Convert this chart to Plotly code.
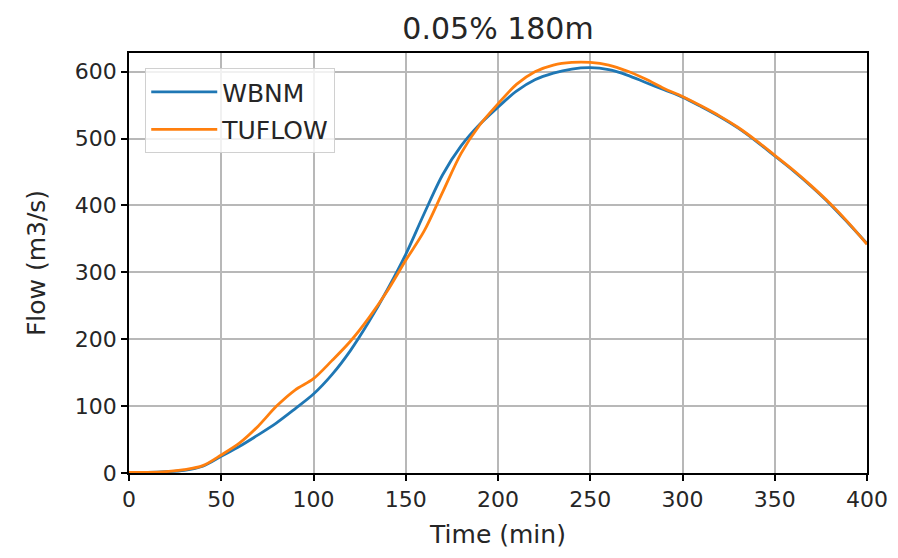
import plotly.graph_objects as go

time_min = list(range(0, 401, 10))

wbnm = [1, 1, 2, 4, 10, 25, 40, 57, 75, 96,
        118, 147, 183, 226, 274, 327, 388, 446, 489, 521,
        547, 571, 588, 598, 604, 606, 603, 595, 584, 573,
        562, 548, 533, 516, 496, 474, 452, 428, 402, 373,
        343]

tuflow = [1, 1, 2, 5, 11, 27, 45, 70, 100, 124,
          141, 168, 197, 232, 272, 318, 362, 420, 478, 520,
          552, 581, 600, 610, 614, 614, 610, 601, 589, 575,
          563, 549, 534, 517, 497, 475, 453, 429, 403, 374,
          342]

series_names = ["WBNM", "TUFLOW"]
colors = ["#1f77b4", "#ff7f0e"]

x_ticks = [0, 50, 100, 150, 200, 250, 300, 350, 400]
y_ticks = [0, 100, 200, 300, 400, 500, 600]

font_family = "DejaVu Sans"
text_color = "#262626"

fig = go.Figure()
for name, vals, col in zip(series_names, [wbnm, tuflow], colors):
    fig.add_trace(go.Scatter(
        x=time_min, y=vals, mode="lines", name=name, legendgroup=name,
        line=dict(color=col, width=2.8, shape="spline", smoothing=0.9),
    ))

axis_common = dict(
    showline=True, linecolor="black", linewidth=1.5, mirror=True,
    showgrid=True, gridcolor="#b8b8b8", gridwidth=1.5,
    ticks="outside", ticklen=6, tickwidth=1.5, tickcolor="black",
    zeroline=False, automargin=False,
    tickfont=dict(family=font_family, size=22, color=text_color),
)

fig.update_layout(
    width=898, height=558,
    margin=dict(l=129, r=31, t=53, b=85),
    paper_bgcolor="white", plot_bgcolor="white",
    font=dict(family=font_family, size=22, color=text_color),
    title=dict(text="0.05% 180m", x=(129 + 867) / 2 / 898, xanchor="center",
               y=1 - 28 / 558, yanchor="middle",
               font=dict(family=font_family, size=30, color=text_color)),
    xaxis=dict(range=[0, 400], tickvals=x_ticks,
               title=dict(text="Time (min)", standoff=14,
                          font=dict(family=font_family, size=25)),
               **axis_common),
    yaxis=dict(range=[0, 628], tickvals=y_ticks,
               title=dict(text="Flow (m3/s)", standoff=22,
                          font=dict(family=font_family, size=25)),
               **axis_common),
    legend=dict(x=0.022, y=0.964, xanchor="left", yanchor="top",
                bgcolor="rgba(255,255,255,0.8)", bordercolor="#d0d0d0",
                borderwidth=1, font=dict(family=font_family, size=25),
                itemwidth=66, traceorder="grouped", tracegroupgap=2),
    showlegend=True,
)

fig.write_html("out.html", config={"displayModeBar": False},
               post_script="document.body.style.margin='0';")
